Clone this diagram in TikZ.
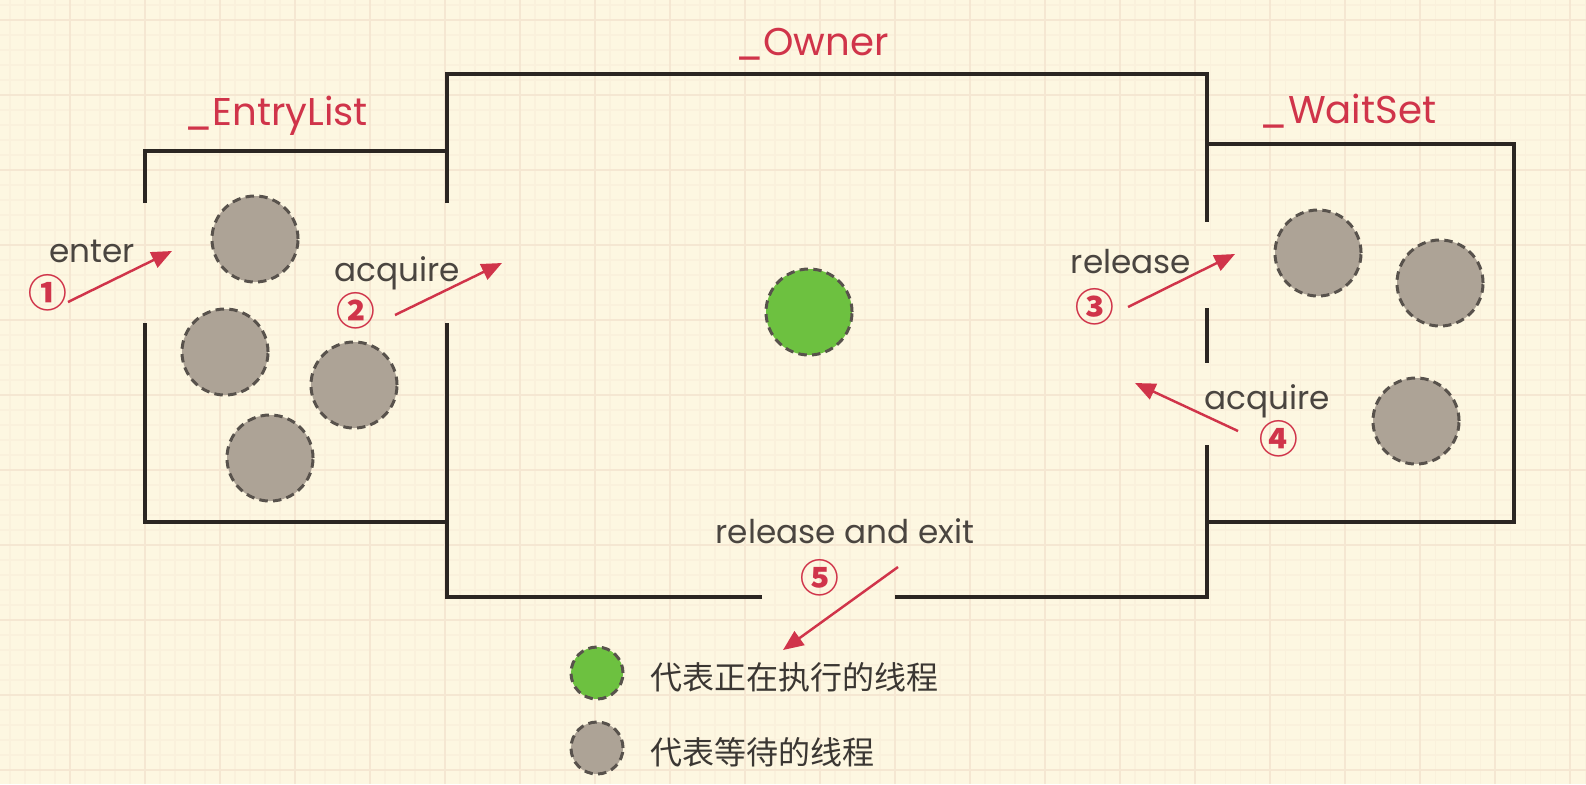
\documentclass[tikz,border=0pt]{standalone}
\usepackage{fontspec}
\newfontfamily\lblfont{Poppins}
\newfontfamily\cjk{Noto Sans CJK SC}
\usetikzlibrary{arrows.meta,positioning}
\definecolor{paper}{HTML}{FDF7E1}
\definecolor{gridmin}{HTML}{FAF1DC}
\definecolor{gridmaj}{HTML}{F5E7D2}
\definecolor{wallc}{HTML}{2B2622}
\definecolor{redc}{HTML}{D0344A}
\definecolor{txtc}{HTML}{4A4540}
\definecolor{waitc}{HTML}{ADA396}
\definecolor{runc}{HTML}{6DC140}
\definecolor{dashc}{HTML}{58524C}
\tikzset{
  wall/.style={draw=wallc,line width=1.15pt},
  waitthr/.style={circle,draw=dashc,fill=waitc,line width=0.85pt,dash pattern=on 2.4pt off 1.5pt,minimum size=0.86cm,inner sep=0pt},
  runthr/.style={waitthr,fill=runc},
  keythr/.style={minimum size=0.52cm},
  arr/.style={-{Triangle[length=5.8pt,width=4.8pt]},draw=redc,line width=0.7pt},
  lbl/.style={font=\lblfont\fontsize{9.3}{11}\selectfont,text=txtc,anchor=base,inner sep=0pt},
  ttl/.style={font=\lblfont\fontsize{11}{13}\selectfont,text=redc,anchor=base,inner sep=0pt},
  num/.style={font=\cjk\bfseries\fontsize{11}{13}\selectfont,text=redc,inner sep=0pt},
  key/.style={font=\cjk\fontsize{9.1}{11}\selectfont,text=txtc!80!black,anchor=west,inner sep=0pt}
}
\begin{document}
\begin{tikzpicture}[x=0.01cm,y=-0.01cm]
  \useasboundingbox (0,0) rectangle (1586,784);
  % Paper and grid
  \fill[paper] (0,0) rectangle (1586,784);
  \foreach \gx in {10,25,...,1585} \draw[gridmin,line width=0.3pt] (\gx,0) -- (\gx,784);
  \foreach \gy in {5,20,...,784} \draw[gridmin,line width=0.3pt] (0,\gy) -- (1586,\gy);
  \foreach \gx in {70,145,...,1585} \draw[gridmaj,line width=0.4pt] (\gx,0) -- (\gx,784);
  \foreach \gy in {20,95,...,784} \draw[gridmaj,line width=0.4pt] (0,\gy) -- (1586,\gy);

  % Entry list walls
  \draw[wall] (145,203) |- (447,151);
  \draw[wall] (145,323) |- (447,522);
  % Owner walls
  \draw[wall] (447,203) -- (447,74) -| (1207,222);
  \draw[wall] (1207,308) -- (1207,363);
  \draw[wall] (1207,445) |- (895,597);
  \draw[wall] (762,597) -| (447,323);
  % Wait set walls
  \draw[wall] (1207,144) -| (1514,522) -- (1207,522);

  % Titles
  \node[ttl] (tEntry) at (276,125) {\_EntryList};
  \node[ttl] (tOwner) at (812,55) {\_Owner};
  \node[ttl] (tWait) at (1348,123) {\_WaitSet};

  % Threads
  \node[waitthr] (e1) at (255,239) {};
  \node[waitthr] (e2) at (225,352) {};
  \node[waitthr] (e3) at (354,385) {};
  \node[waitthr] (e4) at (270,458) {};
  \node[runthr] (own) at (809,312) {};
  \node[waitthr] (w1) at (1318,253) {};
  \node[waitthr] (w2) at (1440,283) {};
  \node[waitthr] (w3) at (1416,421) {};

  % Arrow ends
  \coordinate (enS) at (68,302);   \coordinate (enT) at (172,251);
  \coordinate (acS) at (395,315);  \coordinate (acT) at (502,263);
  \coordinate (reS) at (1128,307); \coordinate (reT) at (1235,254);
  \coordinate (rqS) at (1238,431); \coordinate (rqT) at (1135,383);
  \coordinate (exS) at (898,567);  \coordinate (exT) at (783,650);

  % Steps
  \draw[arr] (enS) -- (enT);
  \node[lbl] (lEnter) at (92,262) {enter};
  \node[num] (n1) at (48,293) {①};
  \draw[arr] (acS) -- (acT);
  \node[lbl] (lAcq) at (397,281) {acquire};
  \node[num] (n2) at (356,311) {②};
  \draw[arr] (reS) -- (reT);
  \node[lbl] (lRel) at (1131,273) {release};
  \node[num] (n3) at (1095,307) {③};
  \draw[arr] (rqS) -- (rqT);
  \node[lbl] (lReacq) at (1267,409) {acquire};
  \node[num] (n4) at (1279,439) {④};
  \draw[arr] (exS) -- (exT);
  \node[lbl] (lExit) at (845,543) {release and exit};
  \node[num] (n5) at (820,578) {⑤};

  % Legend
  \node[runthr,keythr] (kRun) at (597,673) {};
  \node[key] (kRunTxt) at (650,677) {代表正在执行的线程};
  \node[waitthr,keythr] (kWait) at (597,748) {};
  \node[key] (kWaitTxt) at (650,752) {代表等待的线程};
\end{tikzpicture}
\end{document}
